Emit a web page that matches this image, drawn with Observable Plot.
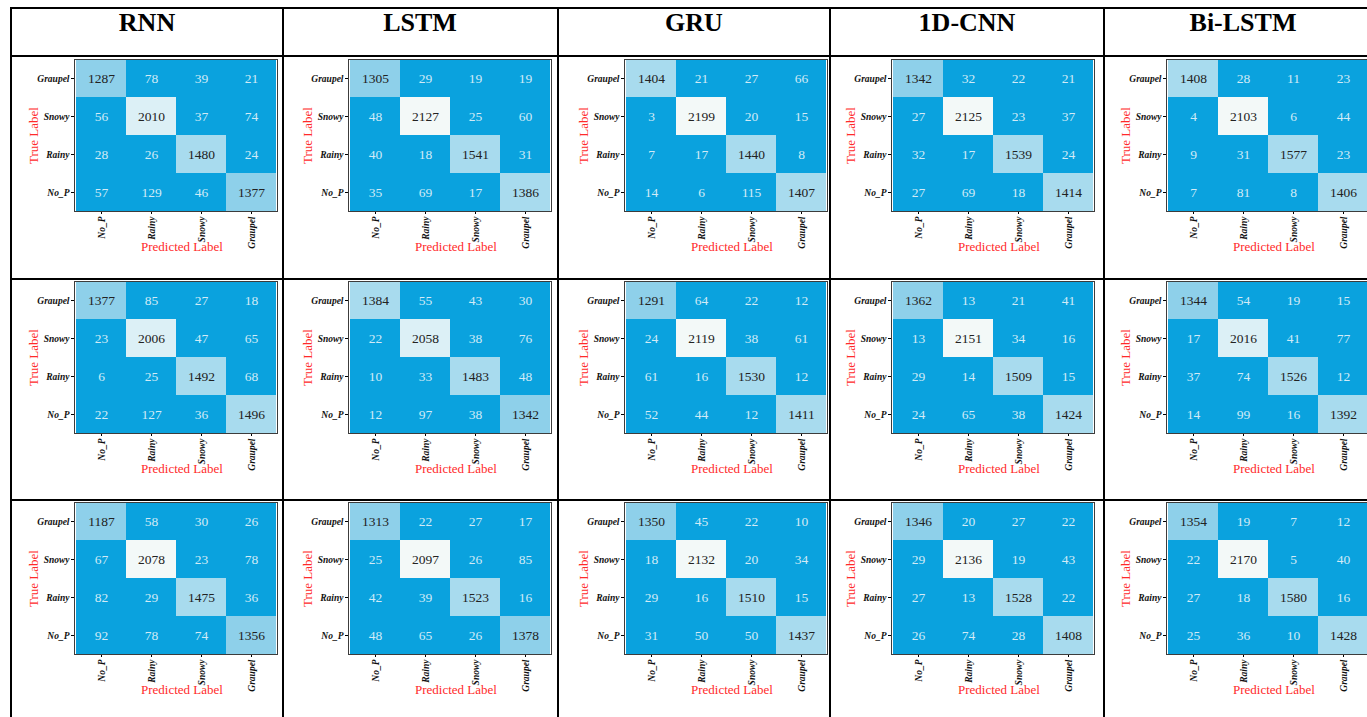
<!DOCTYPE html>
<html><head><meta charset="utf-8">
<script src="https://cdn.jsdelivr.net/npm/d3@7"></script>
<script src="https://cdn.jsdelivr.net/npm/@observablehq/plot@0.6"></script>
<style>
body{margin:0;background:#fff;}
#wrap{position:relative;width:1367px;height:717px;overflow:hidden;background:#fff;}
.ln{position:absolute;background:#000;}
.hd{position:absolute;top:8px;height:48px;line-height:48px;font:bold 26px "Liberation Serif",serif;transform:translateX(-50%);white-space:nowrap;color:#000;}
.panel{position:absolute;}
.panel svg{overflow:visible;max-width:none !important;background:transparent !important;}
.panel svg text{font-family:"Liberation Serif","Times New Roman",serif !important;}
</style></head><body><div id="wrap"></div>
<script>
const models = ["RNN","LSTM","GRU","1D-CNN","Bi-LSTM"];
const predictedLabels = ["No_P","Rainy","Snowy","Graupel"];
const trueLabels = ["Graupel","Snowy","Rainy","No_P"];

// Row 1
const rnn1 = [[1287,78,39,21],[56,2010,37,74],[28,26,1480,24],[57,129,46,1377]];
const lstm1 = [[1305,29,19,19],[48,2127,25,60],[40,18,1541,31],[35,69,17,1386]];
const gru1 = [[1404,21,27,66],[3,2199,20,15],[7,17,1440,8],[14,6,115,1407]];
const cnn1 = [[1342,32,22,21],[27,2125,23,37],[32,17,1539,24],[27,69,18,1414]];
const bilstm1 = [[1408,28,11,23],[4,2103,6,44],[9,31,1577,23],[7,81,8,1406]];
// Row 2
const rnn2 = [[1377,85,27,18],[23,2006,47,65],[6,25,1492,68],[22,127,36,1496]];
const lstm2 = [[1384,55,43,30],[22,2058,38,76],[10,33,1483,48],[12,97,38,1342]];
const gru2 = [[1291,64,22,12],[24,2119,38,61],[61,16,1530,12],[52,44,12,1411]];
const cnn2 = [[1362,13,21,41],[13,2151,34,16],[29,14,1509,15],[24,65,38,1424]];
const bilstm2 = [[1344,54,19,15],[17,2016,41,77],[37,74,1526,12],[14,99,16,1392]];
// Row 3
const rnn3 = [[1187,58,30,26],[67,2078,23,78],[82,29,1475,36],[92,78,74,1356]];
const lstm3 = [[1313,22,27,17],[25,2097,26,85],[42,39,1523,16],[48,65,26,1378]];
const gru3 = [[1350,45,22,10],[18,2132,20,34],[29,16,1510,15],[31,50,50,1437]];
const cnn3 = [[1346,20,27,22],[29,2136,19,43],[27,13,1528,22],[26,74,28,1408]];
const bilstm3 = [[1354,19,7,12],[22,2170,5,40],[27,18,1580,16],[25,36,10,1428]];

const colorBreaks = [1000,1380,1800,2070];
const colorRange = ["#0aa2de","#8ed0ea","#a8dbee","#dcf0f6","#f3f9f8"];

const grid = [
  [rnn1, lstm1, gru1, cnn1, bilstm1],
  [rnn2, lstm2, gru2, cnn2, bilstm2],
  [rnn3, lstm3, gru3, cnn3, bilstm3]
];

// layout
const colLines = [11,283,558,830,1104];
const rowLines = [8,56,279,500];
const headCenters = [147,420,694,967,1243];
const frameLeft = [74,348,624,891,1166];
const frameTop = [59,281,502];
const frameW = 203, frameH = 152;
const ML = 62, MR = 4, MT = 4, MB = 66;

const wrap = document.getElementById("wrap");
function line(x,y,w,h){const d=document.createElement("div");d.className="ln";Object.assign(d.style,{left:x+"px",top:y+"px",width:w+"px",height:h+"px"});wrap.appendChild(d);}
rowLines.forEach(y=>line(colLines[0]-1,y-1,1400,2));
colLines.forEach(x=>line(x-1,rowLines[0]-1,2,760));
models.forEach((m,i)=>{const d=document.createElement("div");d.className="hd";d.style.left=headCenters[i]+"px";d.textContent=m;wrap.appendChild(d);});

function panel(mat){
  const data = [];
  mat.forEach((row,i)=>row.forEach((v,j)=>data.push({t:trueLabels[i],p:predictedLabels[j],v,diag:i===j})));
  const txt = {fontSize:13.5,fontStyle:"normal",fontWeight:"normal"};
  const svg = Plot.plot({
    width: ML+frameW+MR, height: MT+frameH+MB,
    marginLeft:ML, marginRight:MR, marginTop:MT, marginBottom:MB,
    x:{domain:predictedLabels, padding:0, tickRotate:-90, tickSize:3, tickPadding:2, label:null},
    y:{domain:trueLabels, padding:0, tickSize:3, tickPadding:2, label:null},
    color:{type:"threshold", domain:colorBreaks, range:colorRange},
    marks:[
      Plot.cell(data,{x:"p",y:"t",fill:"v"}),
      Plot.frame({stroke:"#3c3c3c"}),
      Plot.text(data,{filter:d=>!d.diag,x:"p",y:"t",text:d=>String(d.v),fill:"#d2ebf7",...txt}),
      Plot.text(data,{filter:d=>d.diag,x:"p",y:"t",text:d=>String(d.v),fill:"#222",...txt}),
      Plot.text(["True Label"],{text:d=>d,frameAnchor:"left",textAnchor:"middle",lineAnchor:"middle",rotate:-90,dx:-41,fill:"#ff2a2a",fontSize:13,fontStyle:"normal",fontWeight:"normal"}),
      Plot.text(["Predicted Label"],{text:d=>d,frameAnchor:"bottom",textAnchor:"middle",lineAnchor:"middle",dy:35,dx:6,fill:"#ff2a2a",fontSize:13,fontStyle:"normal",fontWeight:"normal"})
    ]
  });
  svg.setAttribute("font-size","9.5");
  svg.setAttribute("font-style","italic");
  svg.setAttribute("font-weight","bold");
  svg.setAttribute("fill","#111");
  return svg;
}

grid.forEach((row,r)=>row.forEach((mat,c)=>{
  const div=document.createElement("div");div.className="panel";
  div.style.left=(frameLeft[c]-ML)+"px";div.style.top=(frameTop[r]-MT)+"px";
  div.style.width=(ML+frameW+MR)+"px";
  div.appendChild(panel(mat));wrap.appendChild(div);
}));
</script></body></html>
